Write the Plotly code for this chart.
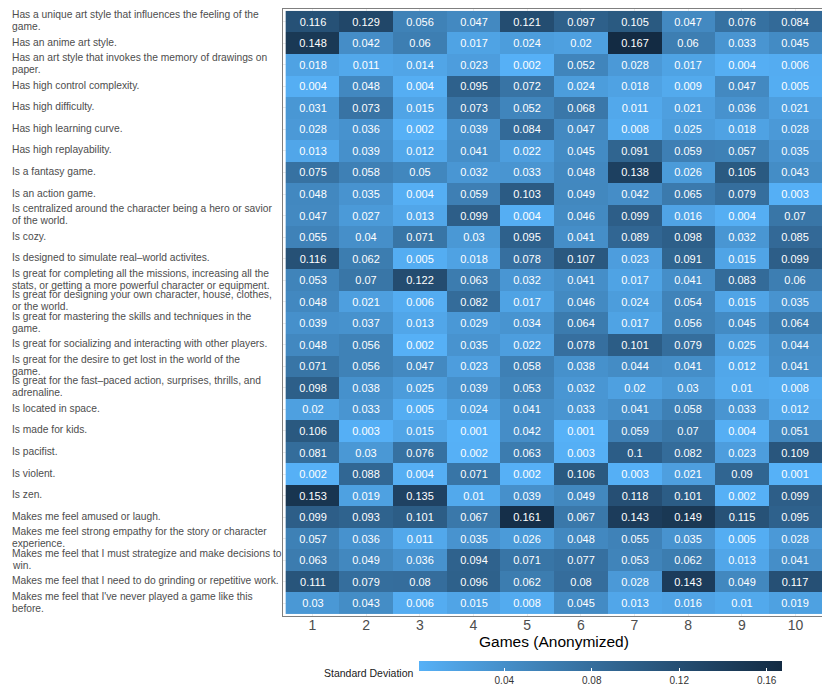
import plotly.graph_objects as go

games = [1, 2, 3, 4, 5, 6, 7, 8, 9, 10]

statements = [
    "Has a unique art style that influences the feeling of the\ngame.",
    "Has an anime art style.",
    "Has an art style that invokes the memory of drawings on\npaper.",
    "Has high control complexity.",
    "Has high difficulty.",
    "Has high learning curve.",
    "Has high replayability.",
    "Is a fantasy game.",
    "Is an action game.",
    "Is centralized around the character being a hero or savior\nof the world.",
    "Is cozy.",
    "Is designed to simulate real\u2013world activites.",
    "Is great for completing all the missions, increasing all the\nstats, or getting a more powerful character or equipment.",
    "Is great for designing your own character, house, clothes,\nor the world.",
    "Is great for mastering the skills and techniques in the\ngame.",
    "Is great for socializing and interacting with other players.",
    "Is great for the desire to get lost in the world of the\ngame.",
    "Is great for the fast\u2013paced action, surprises, thrills, and\nadrenaline.",
    "Is located in space.",
    "Is made for kids.",
    "Is pacifist.",
    "Is violent.",
    "Is zen.",
    "Makes me feel amused or laugh.",
    "Makes me feel strong empathy for the story or character\nexperience.",
    "Makes me feel that I must strategize and make decisions to\nwin.",
    "Makes me feel that I need to do grinding or repetitive work.",
    "Makes me feel that I've never played a game like this\nbefore.",
]

# standard deviation per statement (rows) and game (columns)
sd_values = [
    [0.116, 0.129, 0.056, 0.047, 0.121, 0.097, 0.105, 0.047, 0.076, 0.084],
    [0.148, 0.042, 0.06, 0.017, 0.024, 0.02, 0.167, 0.06, 0.033, 0.045],
    [0.018, 0.011, 0.014, 0.023, 0.002, 0.052, 0.028, 0.017, 0.004, 0.006],
    [0.004, 0.048, 0.004, 0.095, 0.072, 0.024, 0.018, 0.009, 0.047, 0.005],
    [0.031, 0.073, 0.015, 0.073, 0.052, 0.068, 0.011, 0.021, 0.036, 0.021],
    [0.028, 0.036, 0.002, 0.039, 0.084, 0.047, 0.008, 0.025, 0.018, 0.028],
    [0.013, 0.039, 0.012, 0.041, 0.022, 0.045, 0.091, 0.059, 0.057, 0.035],
    [0.075, 0.058, 0.05, 0.032, 0.033, 0.048, 0.138, 0.026, 0.105, 0.043],
    [0.048, 0.035, 0.004, 0.059, 0.103, 0.049, 0.042, 0.065, 0.079, 0.003],
    [0.047, 0.027, 0.013, 0.099, 0.004, 0.046, 0.099, 0.016, 0.004, 0.07],
    [0.055, 0.04, 0.071, 0.03, 0.095, 0.041, 0.089, 0.098, 0.032, 0.085],
    [0.116, 0.062, 0.005, 0.018, 0.078, 0.107, 0.023, 0.091, 0.015, 0.099],
    [0.053, 0.07, 0.122, 0.063, 0.032, 0.041, 0.017, 0.041, 0.083, 0.06],
    [0.048, 0.021, 0.006, 0.082, 0.017, 0.046, 0.024, 0.054, 0.015, 0.035],
    [0.039, 0.037, 0.013, 0.029, 0.034, 0.064, 0.017, 0.056, 0.045, 0.064],
    [0.048, 0.056, 0.002, 0.035, 0.022, 0.078, 0.101, 0.079, 0.025, 0.044],
    [0.071, 0.056, 0.047, 0.023, 0.058, 0.038, 0.044, 0.041, 0.012, 0.041],
    [0.098, 0.038, 0.025, 0.039, 0.053, 0.032, 0.02, 0.03, 0.01, 0.008],
    [0.02, 0.033, 0.005, 0.024, 0.041, 0.033, 0.041, 0.058, 0.033, 0.012],
    [0.106, 0.003, 0.015, 0.001, 0.042, 0.001, 0.059, 0.07, 0.004, 0.051],
    [0.081, 0.03, 0.076, 0.002, 0.063, 0.003, 0.1, 0.082, 0.023, 0.109],
    [0.002, 0.088, 0.004, 0.071, 0.002, 0.106, 0.003, 0.021, 0.09, 0.001],
    [0.153, 0.019, 0.135, 0.01, 0.039, 0.049, 0.118, 0.101, 0.002, 0.099],
    [0.099, 0.093, 0.101, 0.067, 0.161, 0.067, 0.143, 0.149, 0.115, 0.095],
    [0.057, 0.036, 0.011, 0.035, 0.026, 0.048, 0.055, 0.035, 0.005, 0.028],
    [0.063, 0.049, 0.036, 0.094, 0.071, 0.077, 0.053, 0.062, 0.013, 0.041],
    [0.111, 0.079, 0.08, 0.096, 0.062, 0.08, 0.028, 0.143, 0.049, 0.117],
    [0.03, 0.043, 0.006, 0.015, 0.008, 0.045, 0.013, 0.016, 0.01, 0.019],
]

legend_ticks = [0.04, 0.08, 0.12, 0.16]


# ggplot-style gradient (interpolated in Lab space) from light to dark blue
def _to_lab(hexcol):
    rgb = [int(hexcol[i:i + 2], 16) / 255 for i in (1, 3, 5)]
    lin = [c / 12.92 if c <= 0.04045 else ((c + 0.055) / 1.055) ** 2.4 for c in rgb]
    x = (0.4124 * lin[0] + 0.3576 * lin[1] + 0.1805 * lin[2]) / 0.95047
    y = 0.2126 * lin[0] + 0.7152 * lin[1] + 0.0722 * lin[2]
    z = (0.0193 * lin[0] + 0.1192 * lin[1] + 0.9505 * lin[2]) / 1.08883
    f = [t ** (1 / 3) if t > 0.008856 else 7.787 * t + 16 / 116 for t in (x, y, z)]
    return (116 * f[1] - 16, 500 * (f[0] - f[1]), 200 * (f[1] - f[2]))


def _from_lab(lab):
    L, a, b = lab
    fy = (L + 16) / 116
    fx = fy + a / 500
    fz = fy - b / 200
    inv = [t ** 3 if t ** 3 > 0.008856 else (t - 16 / 116) / 7.787 for t in (fx, fy, fz)]
    x, y, z = inv[0] * 0.95047, inv[1], inv[2] * 1.08883
    lin = [3.2406 * x - 1.5372 * y - 0.4986 * z,
           -0.9689 * x + 1.8758 * y + 0.0415 * z,
           0.0557 * x - 0.2040 * y + 1.0570 * z]
    out = []
    for c in lin:
        c = max(0, min(1, c))
        c = 12.92 * c if c <= 0.0031308 else 1.055 * c ** (1 / 2.4) - 0.055
        out.append(round(c * 255))
    return "rgb(%d,%d,%d)" % tuple(out)


lo, hi = _to_lab("#56B1F7"), _to_lab("#132B43")
colorscale = []
for i in range(11):
    t = i / 10
    colorscale.append([t, _from_lab([lo[k] + (hi[k] - lo[k]) * t for k in range(3)])])

# page geometry; the browser puts the figure 8px in from the window corner
OFF = 8
W, H = 830 - OFF, 692 - OFF
ML, MR, MT, MB = 283 - OFF, 5, 1, 76
PW, PH = W - ML - MR, H - MT - MB


def px_x(x):
    # window pixel -> paper x
    return (x - OFF - ML) / PW


def px_y(y):
    # window pixel -> paper y
    return (H - MB - (y - OFF)) / PH


rows = list(range(len(statements)))
cell_text = [[str(v) for v in row] for row in sd_values]

fig = go.Figure()
fig.add_trace(go.Heatmap(
    x=games,
    y=rows,
    z=sd_values,
    text=cell_text,
    texttemplate="%{text}",
    textfont=dict(color="white", size=11, family="Liberation Sans"),
    colorscale=colorscale,
    colorbar=dict(
        orientation="h",
        lenmode="pixels", len=363,
        thickness=10,
        xpad=0, ypad=0,
        x=px_x(600.5), xanchor="center",
        y=px_y(661), yanchor="top",
        outlinewidth=0,
        tickvals=legend_ticks,
        ticktext=[str(v) for v in legend_ticks],
        ticks="inside", ticklen=3, tickcolor="white", tickwidth=1,
        tickfont=dict(size=10, color="#333333", family="Liberation Sans"),
    ),
))

# statement labels, left aligned, one annotation per text line
for r, label in zip(rows, statements):
    lines = label.split("\n")
    n = len(lines)
    for k, line in enumerate(lines):
        fig.add_annotation(
            x=px_x(10), xref="paper", y=r, yref="y",
            yshift=(n - 1) * 6 - k * 12 + 1,
            text=line, showarrow=False,
            xanchor="left", yanchor="middle",
            font=dict(size=10.25, color="#4d4d4d", family="Liberation Sans"),
        )

fig.add_annotation(
    x=px_x(415), y=px_y(673), xref="paper", yref="paper", text="Standard Deviation",
    showarrow=False, font=dict(size=10.5, color="#1a1a1a", family="Liberation Sans"),
    xanchor="right", yanchor="middle",
)

fig.add_annotation(
    x=px_x(554), y=px_y(641), xref="paper", yref="paper", text="Games (Anonymized)",
    showarrow=False, font=dict(size=15.5, color="black", family="Liberation Sans"),
    xanchor="center", yanchor="middle",
)

fig.update_layout(
    width=W, height=H,
    margin=dict(l=ML, r=MR, t=MT, b=MB, autoexpand=False),
    plot_bgcolor="white",
    paper_bgcolor="white",
    font=dict(family="Liberation Sans"),
    xaxis=dict(
        range=[0.45, 10.55],
        tickvals=games,
        ticktext=[str(g) for g in games],
        tickfont=dict(size=14, color="#4d4d4d"),
        ticklabelstandoff=-4,
        showgrid=True, gridcolor="#ebebeb",
        zeroline=False,
        showline=True, mirror=True, linecolor="#7f7f7f", linewidth=1,
    ),
    yaxis=dict(
        range=[27.59, -0.59],
        showticklabels=False,
        tickvals=rows,
        showgrid=True, gridcolor="#ebebeb",
        zeroline=False,
        showline=True, mirror=True, linecolor="#7f7f7f", linewidth=1,
    ),
)

fig.write_html("out.html")
